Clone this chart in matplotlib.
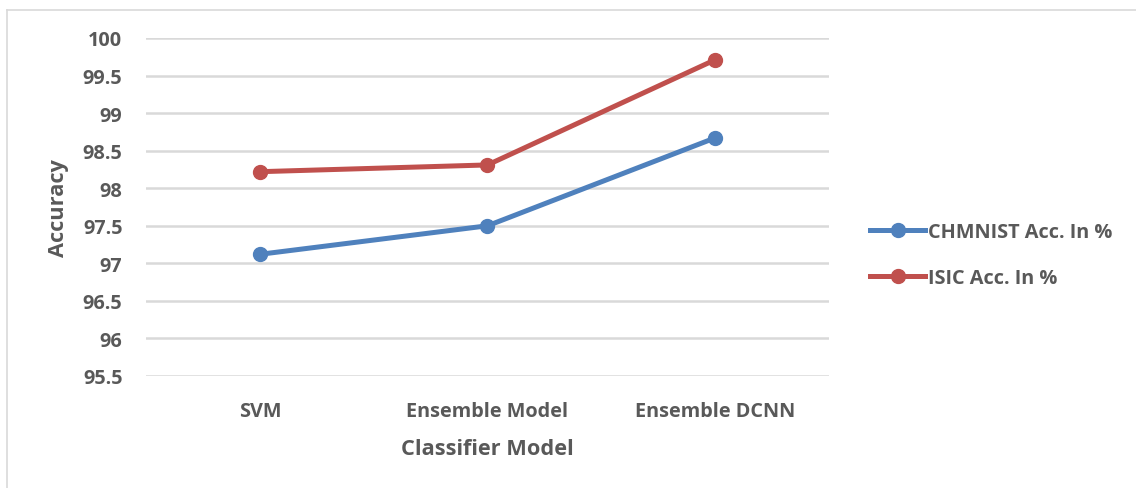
import matplotlib.pyplot as plt
from matplotlib.lines import Line2D

models = ["SVM", "Ensemble Model", "Ensemble DCNN"]
chmnist_acc = [97.12, 97.50, 98.67]
isic_acc = [98.22, 98.31, 99.71]
yticks = [95.5, 96, 96.5, 97, 97.5, 98, 98.5, 99, 99.5, 100]

blue = "#4F81BD"
red = "#C0504D"
text_gray = "#595959"

plt.rcParams["font.family"] = ["Open Sans", "DejaVu Sans"]

W, H = 1136, 489
fig = plt.figure(figsize=(W / 100, H / 100), dpi=100)
ax = fig.add_axes([146 / W, 1 - 377 / H, (829 - 146) / W, (377 - 39) / H])

x = range(len(models))
ax.plot(x, chmnist_acc, color=blue, lw=3.6, marker="o", ms=10,
        solid_capstyle="round", label="CHMNIST Acc. In %")
ax.plot(x, isic_acc, color=red, lw=3.6, marker="o", ms=10,
        solid_capstyle="round", label="ISIC Acc. In %")

ax.set_xlim(-0.5, 2.5)
ax.set_ylim(95.5, 100)
ax.set_yticks(yticks)
ax.set_yticklabels([f"{v:g}" for v in yticks])
ax.set_xticks(list(x))
ax.set_xticklabels(models)
ax.tick_params(length=0, labelsize=14.3, labelcolor=text_gray)
ax.tick_params(axis="y", pad=17)
ax.tick_params(axis="x", pad=18)
for lab in ax.get_xticklabels() + ax.get_yticklabels():
    lab.set_fontweight("bold")

ax.grid(axis="y", color="#D9D9D9", lw=1.8)
ax.set_axisbelow(True)
for s in ax.spines.values():
    s.set_visible(False)

ax.set_xlabel("Classifier Model", fontsize=15.7, fontweight="bold",
              color=text_gray, labelpad=12)
ax.set_ylabel("Accuracy", fontsize=15.7, fontweight="bold",
              color=text_gray, labelpad=10)

handles = [Line2D([], [], color=blue, lw=3.6, marker="o", ms=10),
           Line2D([], [], color=red, lw=3.6, marker="o", ms=10)]
leg = fig.legend(handles, ["CHMNIST Acc. In %", "ISIC Acc. In %"],
                 loc="center left", bbox_to_anchor=(852 / W, 1 - 256 / H),
                 frameon=False, handlelength=2.8, handletextpad=0.15,
                 labelspacing=1.3, prop={"size": 14.3, "weight": "bold"})
for t in leg.get_texts():
    t.set_color(text_gray)

# thin frame on top and left edges
fig.add_artist(Line2D([6.5 / W, 1], [1 - 10.5 / H, 1 - 10.5 / H],
                      color="#D9D9D9", lw=1.2, transform=fig.transFigure))
fig.add_artist(Line2D([6.5 / W, 6.5 / W], [0, 1 - 10.5 / H],
                      color="#D9D9D9", lw=1.2, transform=fig.transFigure))

fig.savefig("out.png", dpi=100)
